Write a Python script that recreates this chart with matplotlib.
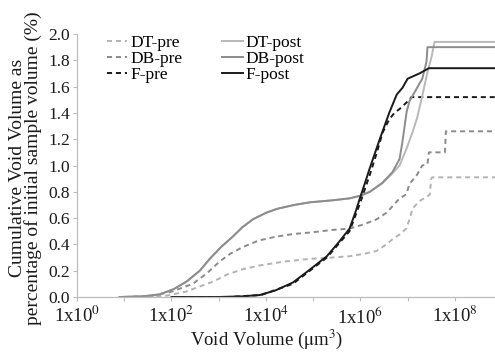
import numpy as np
import matplotlib
matplotlib.use("Agg")
import matplotlib.pyplot as plt

plt.rcParams['font.family'] = ['Liberation Serif', 'DejaVu Serif']
plt.rcParams['mathtext.fontset'] = 'stix'

# curve points: x as log10(void volume), y in %
dt_pre_logx = [1.3, 1.9, 2.3, 2.6, 2.9, 3.17, 3.5, 3.87, 4.4, 4.93, 5.4, 5.77, 6.1, 6.34,
               6.55, 6.68, 6.85, 6.97, 7.05, 7.1, 7.25, 7.4, 7.47, 7.5, 7.52, 8.85]
dt_pre_y = [0, 0.01, 0.04, 0.08, 0.12, 0.17, 0.21, 0.24, 0.27, 0.29, 0.30, 0.31, 0.33, 0.35,
            0.40, 0.44, 0.48, 0.52, 0.60, 0.67, 0.73, 0.76, 0.78, 0.90, 0.91, 0.91]

db_pre_logx = [1.0, 1.6, 2.0, 2.45, 2.75, 3.02, 3.25, 3.51, 3.85, 4.23, 4.6, 4.93, 5.4, 5.77,
               6.05, 6.34, 6.55, 6.68, 6.83, 6.97, 7.04, 7.2, 7.31, 7.42, 7.45, 7.79, 7.81, 8.85]
db_pre_y = [0, 0.01, 0.04, 0.10, 0.18, 0.27, 0.33, 0.38, 0.43, 0.46, 0.48, 0.49, 0.51, 0.52,
            0.55, 0.59, 0.64, 0.69, 0.75, 0.78, 0.86, 0.93, 1.0, 1.01, 1.10, 1.10, 1.26, 1.26]

f_pre_logx = [2.2, 3.2, 3.9, 4.57, 5.29, 5.77, 6.0, 6.2, 6.35, 6.47, 6.61, 6.72, 6.83, 6.98,
              7.08, 8.85]
f_pre_y = [0, 0, 0.015, 0.10, 0.30, 0.50, 0.72, 0.93, 1.10, 1.25, 1.35, 1.40, 1.43, 1.48,
           1.52, 1.52]

dt_post_logx = [0.9, 1.4, 1.75, 2.05, 2.33, 2.6, 2.81, 3.05, 3.3, 3.5, 3.72, 4.0, 4.23, 4.6,
                4.93, 5.4, 5.77, 6.0, 6.2, 6.45, 6.65, 6.83, 6.98, 7.1, 7.2, 7.31, 7.42, 7.51,
                7.57, 8.85]
dt_post_y = [0, 0.005, 0.02, 0.06, 0.12, 0.2, 0.29, 0.38, 0.46, 0.53, 0.59, 0.64, 0.67, 0.70,
             0.72, 0.735, 0.75, 0.77, 0.80, 0.86, 0.93, 1.0, 1.13, 1.25, 1.36, 1.53, 1.71, 1.83,
             1.94, 1.94]

db_post_logx = [0.9, 1.4, 1.75, 2.05, 2.33, 2.6, 2.81, 3.05, 3.3, 3.5, 3.72, 4.0, 4.23, 4.6,
                4.93, 5.4, 5.77, 6.0, 6.2, 6.47, 6.68, 6.83, 6.89, 6.98, 7.04, 7.31, 7.40, 7.42,
                7.45, 8.85]
db_post_y = [0, 0.005, 0.02, 0.06, 0.12, 0.2, 0.29, 0.38, 0.46, 0.53, 0.59, 0.64, 0.67, 0.70,
             0.72, 0.735, 0.75, 0.77, 0.80, 0.87, 0.95, 1.05, 1.18, 1.41, 1.49, 1.66, 1.79, 1.90,
             1.90, 1.90]

f_post_logx = [2.0, 3.0, 3.5, 3.87, 4.2, 4.57, 4.9, 5.29, 5.55, 5.77, 5.9, 5.98, 6.1, 6.19,
               6.4, 6.61, 6.77, 6.89, 7.0, 7.25, 7.45, 8.85]
f_post_y = [0, 0, 0.005, 0.015, 0.05, 0.11, 0.2, 0.31, 0.42, 0.52, 0.65, 0.74, 0.87, 0.97,
            1.19, 1.40, 1.54, 1.59, 1.66, 1.70, 1.74, 1.74]

series = [
    ("DT-pre", dt_pre_logx, dt_pre_y, "#b3b3b3", (0, (2.6, 2.0))),
    ("DB-pre", db_pre_logx, db_pre_y, "#8a8a8a", (0, (2.6, 2.0))),
    ("F-pre", f_pre_logx, f_pre_y, "#1a1a1a", (0, (2.6, 2.0))),
    ("DT-post", dt_post_logx, dt_post_y, "#b8b8b8", "-"),
    ("DB-post", db_post_logx, db_post_y, "#8c8c8c", "-"),
    ("F-post", f_post_logx, f_post_y, "#1a1a1a", "-"),
]

fig = plt.figure(figsize=(4.95, 3.54), dpi=100)
ax = fig.add_axes([77 / 495, 1 - 297 / 354, 418 / 495, 263 / 354])

for name, lx, y, col, ls in series:
    ax.plot(10 ** np.array(lx), y, color=col, linestyle=ls, lw=1.4, label=name)

ax.set_xscale("log")
ax.set_xlim(1, 10 ** 8.85)
ax.set_ylim(0, 2.0)

decades = list(range(0, 9))
ax.set_xticks([10.0 ** d for d in decades])
ax.set_xticklabels(["1x10$^{%d}$" % d if d % 2 == 0 else "" for d in decades])
ax.minorticks_off()
ax.set_yticks(np.arange(0, 2.01, 0.2))
ax.set_yticklabels(["%.1f" % v for v in np.arange(0, 2.01, 0.2)])

for s in ["top", "right"]:
    ax.spines[s].set_visible(False)
for s in ["left", "bottom"]:
    ax.spines[s].set_color("#bdbdbd")
    ax.spines[s].set_linewidth(0.9)
ax.tick_params(axis="both", colors="#bdbdbd", labelcolor="#1a1a1a",
               length=3, width=0.8)
ax.tick_params(axis="x", pad=3.5, labelsize=13.5)
ax.tick_params(axis="y", pad=2, labelsize=12.5)

ax.set_ylabel("Cumulative Void Volume as\npercentage of initial sample volume (%)",
              fontsize=14, linespacing=0.9, color="#1a1a1a")
ax.yaxis.set_label_coords(-0.083, 0.49)
ax.set_xlabel("Void Volume ($\\mathrm{\\mu}$m$^3$)", fontsize=13.5, color="#1a1a1a")
ax.xaxis.set_label_coords((267 - 77) / 418, -0.115)

ax.legend(ncol=2, loc="upper left", bbox_to_anchor=(0.05, 1.03), frameon=False,
          fontsize=12.5, handlelength=1.2, handletextpad=0.15, labelspacing=0.0,
          columnspacing=2.3, borderpad=0)

fig.savefig("out.png", dpi=100)
